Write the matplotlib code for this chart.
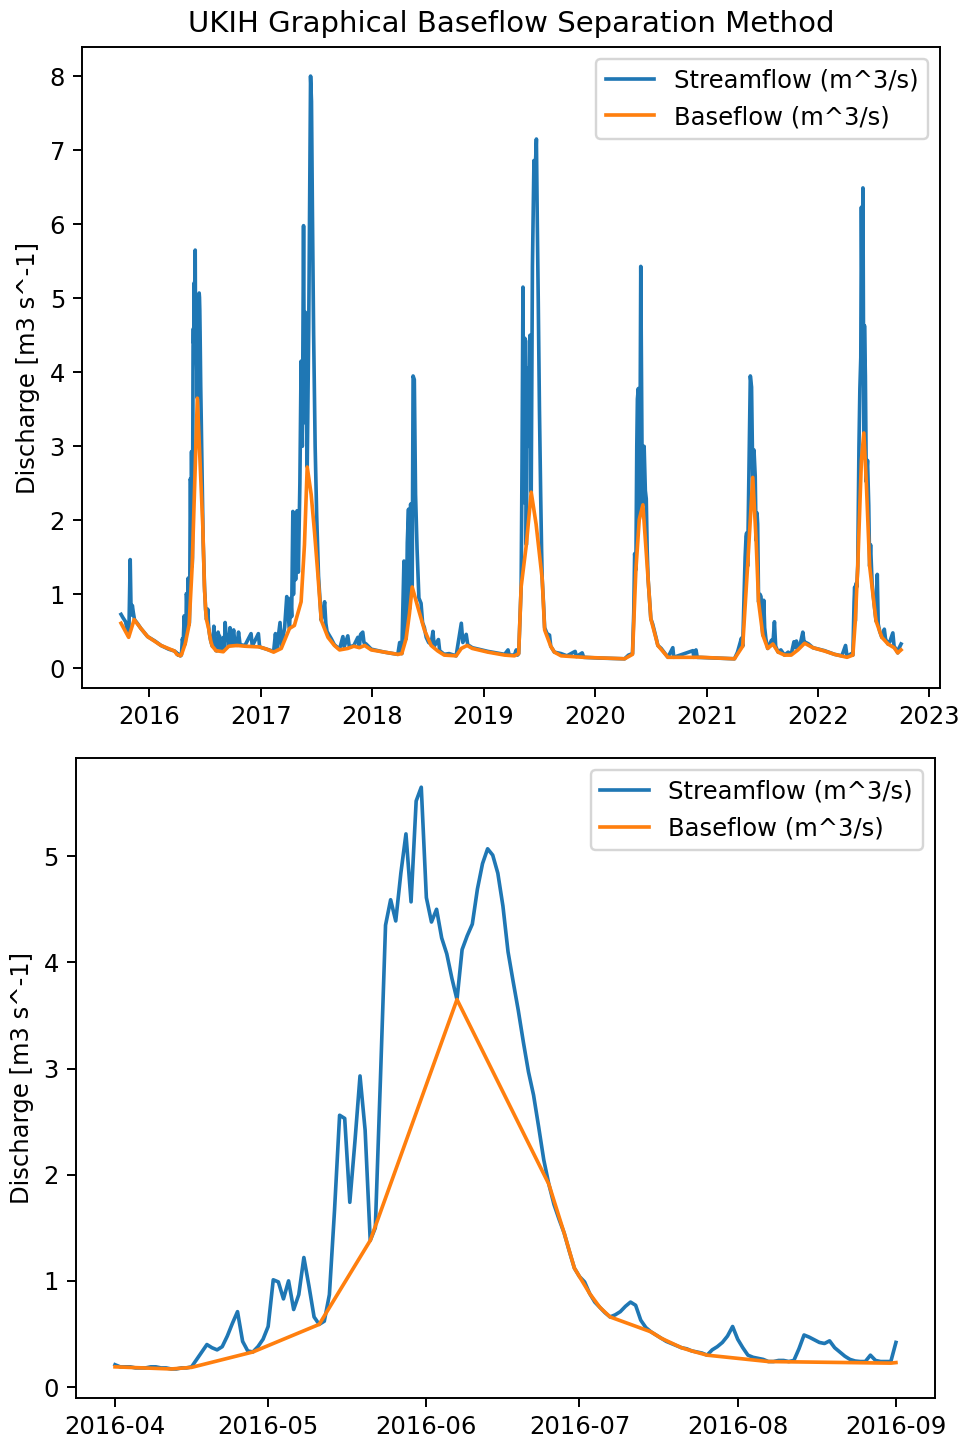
import matplotlib
matplotlib.use("Agg")
import matplotlib.pyplot as plt
import pandas as pd

# --- Streamflow, daily values for the zoom window (2016-04-01 .. 2016-09-01) ---
zoom_start = '2016-04-01'
zoom_end = '2016-09-01'
flow_daily_2016 = [
    # April
    0.21, 0.19, 0.19, 0.19, 0.18, 0.18, 0.18, 0.19, 0.19, 0.18,
    0.18, 0.17, 0.17, 0.18, 0.18, 0.19, 0.26, 0.33, 0.40, 0.37,
    0.35, 0.38, 0.48, 0.60, 0.71, 0.43, 0.34, 0.33, 0.38, 0.45,
    # May
    0.57, 1.01, 0.99, 0.83, 1.00, 0.73, 0.87, 1.22, 0.95, 0.66,
    0.59, 0.62, 0.87, 1.66, 2.56, 2.53, 1.74, 2.31, 2.93, 2.42,
    1.38, 1.50, 2.90, 4.35, 4.59, 4.39, 4.84, 5.21, 4.57, 5.52,
    5.65,
    # June
    4.61, 4.38, 4.50, 4.23, 4.08, 3.85, 3.65, 4.12, 4.25, 4.36,
    4.69, 4.93, 5.07, 5.01, 4.84, 4.53, 4.10, 3.82, 3.55, 3.25,
    2.97, 2.75, 2.45, 2.14, 1.91, 1.72, 1.58, 1.45, 1.28, 1.12,
    # July
    1.04, 0.99, 0.88, 0.80, 0.75, 0.70, 0.66, 0.68, 0.71, 0.76,
    0.80, 0.77, 0.63, 0.56, 0.52, 0.49, 0.46, 0.43, 0.41, 0.39,
    0.37, 0.36, 0.34, 0.33, 0.32, 0.30, 0.35, 0.38, 0.42, 0.48,
    0.57,
    # August
    0.45, 0.37, 0.30, 0.28, 0.27, 0.26, 0.24, 0.24, 0.25, 0.25,
    0.24, 0.25, 0.36, 0.49, 0.47, 0.445, 0.42, 0.41, 0.435, 0.37,
    0.33, 0.29, 0.26, 0.245, 0.24, 0.24, 0.30, 0.25, 0.24, 0.24,
    0.24,
    # September
    0.42,
]

# --- Streamflow outside the zoom window (read at the visible turning points) ---
flow_dates = [
    '2015-10-01', '2015-10-08', '2015-10-16', '2015-10-24', '2015-10-27', '2015-10-31',
    '2015-11-03', '2015-11-07', '2015-11-10', '2015-11-14', '2015-11-25', '2015-12-05',
    '2015-12-27', '2016-01-20', '2016-02-09', '2016-03-05', '2016-03-13', '2016-03-24',
    # after the zoom window
    '2016-09-04', '2016-09-06', '2016-09-10', '2016-09-14', '2016-09-18', '2016-09-22',
    '2016-09-26', '2016-10-04', '2016-10-08', '2016-10-15', '2016-10-20', '2016-10-25',
    '2016-11-10', '2016-11-30', '2016-12-04', '2016-12-24', '2016-12-28',
    # 2017
    '2017-01-20', '2017-02-12', '2017-02-18', '2017-02-22', '2017-03-05', '2017-03-09',
    '2017-03-20', '2017-03-27', '2017-03-31', '2017-04-05', '2017-04-09', '2017-04-12',
    '2017-04-16', '2017-04-18', '2017-04-22', '2017-04-25', '2017-04-30', '2017-05-04',
    '2017-05-09', '2017-05-13', '2017-05-17', '2017-05-21', '2017-05-24', '2017-05-27',
    '2017-06-02', '2017-06-07', '2017-06-11', '2017-06-13', '2017-06-16', '2017-06-19',
    '2017-06-23', '2017-06-28', '2017-07-03', '2017-07-09', '2017-07-14', '2017-07-18',
    '2017-07-24', '2017-07-29', '2017-08-02', '2017-08-06', '2017-08-10', '2017-08-20',
    '2017-08-30', '2017-09-10', '2017-09-16', '2017-09-27', '2017-10-01', '2017-10-13',
    '2017-10-18', '2017-11-02', '2017-11-15', '2017-11-20', '2017-11-24', '2017-12-01',
    '2017-12-05', '2017-12-12', '2017-12-29',
    # 2018
    '2018-02-10', '2018-03-26', '2018-04-01', '2018-04-08', '2018-04-15', '2018-04-18',
    '2018-04-22', '2018-04-26', '2018-04-30', '2018-05-03', '2018-05-07', '2018-05-12',
    '2018-05-15', '2018-05-19', '2018-05-23', '2018-05-28', '2018-06-03', '2018-06-10',
    '2018-06-15', '2018-06-21', '2018-06-27', '2018-07-05', '2018-07-13', '2018-07-19',
    '2018-07-23', '2018-08-06', '2018-08-10', '2018-08-25', '2018-09-10', '2018-10-03',
    '2018-10-20', '2018-10-25', '2018-11-05', '2018-11-10', '2018-11-25',
    # 2019
    '2019-01-15', '2019-03-11', '2019-03-22', '2019-03-26', '2019-04-12', '2019-04-18',
    '2019-04-22', '2019-04-26', '2019-05-04', '2019-05-07', '2019-05-10', '2019-05-13',
    '2019-05-16', '2019-05-19', '2019-05-21', '2019-05-25', '2019-05-29', '2019-06-02',
    '2019-06-06', '2019-06-10', '2019-06-15', '2019-06-18', '2019-06-23', '2019-06-26',
    '2019-06-29', '2019-07-03', '2019-07-07', '2019-07-10', '2019-07-12', '2019-07-16',
    '2019-07-20', '2019-07-28', '2019-08-05', '2019-08-09', '2019-08-21', '2019-09-12',
    '2019-10-01', '2019-10-28', '2019-11-01', '2019-11-20', '2019-11-25',
    # 2020
    '2020-01-15', '2020-04-07', '2020-04-20', '2020-05-03', '2020-05-07', '2020-05-10',
    '2020-05-14', '2020-05-17', '2020-05-19', '2020-05-22', '2020-05-25', '2020-05-28',
    '2020-05-30', '2020-06-03', '2020-06-06', '2020-06-10', '2020-06-14', '2020-06-17',
    '2020-06-20', '2020-06-23', '2020-06-28', '2020-07-02', '2020-07-08', '2020-07-14',
    '2020-07-20', '2020-07-25', '2020-08-05', '2020-08-27', '2020-09-12', '2020-09-15',
    '2020-11-17', '2020-11-20', '2020-11-27', '2020-12-01',
    # 2021
    '2021-02-01', '2021-04-02', '2021-04-12', '2021-04-25', '2021-04-29', '2021-05-03',
    '2021-05-07', '2021-05-10', '2021-05-12', '2021-05-15', '2021-05-19', '2021-05-24',
    '2021-05-28', '2021-06-01', '2021-06-05', '2021-06-09', '2021-06-12', '2021-06-15',
    '2021-06-17', '2021-06-20', '2021-06-25', '2021-06-28', '2021-07-01', '2021-07-04',
    '2021-07-07', '2021-07-10', '2021-07-14', '2021-07-20', '2021-07-25', '2021-08-01',
    '2021-08-06', '2021-08-11', '2021-08-15', '2021-08-23', '2021-09-01', '2021-09-13',
    '2021-09-25', '2021-10-05', '2021-10-14', '2021-10-18', '2021-10-22', '2021-10-27',
    '2021-11-03', '2021-11-12', '2021-11-16', '2021-11-22', '2021-12-01', '2021-12-15',
    # 2022
    '2022-01-22', '2022-02-24', '2022-03-20', '2022-04-01', '2022-04-06', '2022-04-20',
    '2022-04-25', '2022-04-29', '2022-05-01', '2022-05-03', '2022-05-06', '2022-05-08',
    '2022-05-11', '2022-05-15', '2022-05-18', '2022-05-21', '2022-05-23', '2022-05-25',
    '2022-05-28', '2022-05-31', '2022-06-02', '2022-06-05', '2022-06-08', '2022-06-12',
    '2022-06-16', '2022-06-19', '2022-06-22', '2022-06-27', '2022-07-03', '2022-07-10',
    '2022-07-14', '2022-07-17', '2022-07-22', '2022-07-29', '2022-08-03', '2022-08-06',
    '2022-08-10', '2022-08-18', '2022-08-24', '2022-09-03', '2022-09-07', '2022-09-12',
    '2022-09-19', '2022-09-24', '2022-09-30',
]
flow_vals = [
    0.73, 0.68, 0.63, 0.45, 0.55, 1.47,
    0.72, 0.85, 0.76, 0.66, 0.60, 0.54,
    0.43, 0.37, 0.31, 0.26, 0.25, 0.235,
    # after the zoom window
    0.30, 0.62, 0.40, 0.45, 0.30, 0.55,
    0.33, 0.52, 0.33, 0.31, 0.49, 0.32,
    0.31, 0.47, 0.30, 0.47, 0.29,
    # 2017
    0.26, 0.23, 0.47, 0.25, 0.62, 0.29,
    0.55, 0.97, 0.75, 0.54, 0.95, 0.70,
    2.12, 1.00, 2.05, 1.20, 2.13, 1.30,
    2.50, 4.15, 3.00, 5.98, 3.32, 4.81,
    2.72, 4.60, 6.80, 8.00, 7.66, 6.20,
    4.52, 3.00, 2.07, 1.25, 0.92, 0.65,
    0.75, 0.90, 0.61, 0.50, 0.47, 0.40,
    0.32, 0.28, 0.26, 0.43, 0.29, 0.44,
    0.29, 0.31, 0.42, 0.30, 0.46, 0.49,
    0.35, 0.33, 0.26,
    # 2018
    0.22, 0.19, 0.35, 0.20, 1.45, 0.45,
    0.40, 1.70, 2.15, 0.80, 2.22, 1.10,
    3.95, 3.90, 2.35, 1.61, 0.95, 0.88,
    0.62, 0.55, 0.42, 0.35, 0.33, 0.50,
    0.30, 0.39, 0.24, 0.19, 0.20, 0.17,
    0.61, 0.35, 0.46, 0.32, 0.28,
    # 2019
    0.23, 0.19, 0.25, 0.18, 0.18, 0.25,
    0.18, 0.20, 1.10, 2.80, 5.15, 2.24,
    4.46, 4.42, 1.67, 4.06, 3.00, 4.50,
    2.38, 5.43, 6.86, 6.60, 7.15, 6.00,
    5.00, 3.50, 2.35, 1.60, 1.21, 0.90,
    0.55, 0.47, 0.45, 0.30, 0.22, 0.20,
    0.17, 0.23, 0.16, 0.21, 0.15,
    # 2020
    0.14, 0.13, 0.18, 0.20, 0.75, 1.55,
    1.33, 3.00, 3.64, 3.78, 2.01, 3.50,
    5.43, 2.98, 2.21, 3.00, 2.40, 2.29,
    1.60, 1.21, 0.90, 0.67, 0.60, 0.50,
    0.40, 0.31, 0.27, 0.15, 0.28, 0.15,
    0.24, 0.15, 0.25, 0.15,
    # 2021
    0.14, 0.13, 0.22, 0.41, 0.30, 0.90,
    1.50, 1.78, 1.83, 1.38, 2.50, 3.95,
    3.80, 2.58, 2.95, 2.60, 1.73, 2.10,
    1.95, 0.90, 1.00, 0.97, 0.60, 0.45,
    0.92, 0.55, 0.40, 0.27, 0.30, 0.38,
    0.33, 0.63, 0.30, 0.22, 0.25, 0.18,
    0.22, 0.19, 0.36, 0.28, 0.37, 0.27,
    0.32, 0.49, 0.36, 0.35, 0.33, 0.28,
    # 2022
    0.24, 0.19, 0.17, 0.31, 0.16, 0.20,
    0.18, 0.90, 1.10, 0.64, 1.15, 1.10,
    1.38, 3.00, 3.78, 4.20, 6.23, 5.00,
    6.49, 3.18, 4.63, 3.95, 2.52, 2.81,
    2.20, 1.38, 1.67, 1.15, 0.90, 0.64,
    1.27, 0.60, 0.50, 0.42, 0.45, 0.53,
    0.40, 0.33, 0.36, 0.48, 0.30, 0.27,
    0.21, 0.28, 0.33,
]

# --- Baseflow turning points (UKIH: straight lines between them) ---
base_dates = [
    '2015-10-01', '2015-10-26', '2015-11-13', '2015-12-05', '2015-12-27', '2016-02-09',
    '2016-03-24', '2016-04-01', '2016-04-12', '2016-04-16', '2016-04-28', '2016-05-11',
    '2016-05-21', '2016-06-07', '2016-06-25', '2016-06-28', '2016-06-30', '2016-07-01',
    '2016-07-03', '2016-07-05', '2016-07-07', '2016-07-15', '2016-07-17', '2016-07-21',
    '2016-07-23', '2016-07-26', '2016-08-07', '2016-08-31', '2016-09-01', '2016-09-18',
    '2016-10-15', '2016-11-10', '2016-12-28',
    '2017-01-20', '2017-02-12', '2017-03-09', '2017-04-05', '2017-04-21', '2017-05-13',
    '2017-05-24', '2017-06-02', '2017-06-15', '2017-06-26', '2017-07-07', '2017-07-18',
    '2017-08-09', '2017-08-30', '2017-09-16', '2017-10-13', '2017-11-02', '2017-11-20',
    '2017-12-07', '2017-12-29',
    '2018-02-10', '2018-03-26', '2018-04-08', '2018-04-22', '2018-05-03', '2018-05-12',
    '2018-05-31', '2018-06-21', '2018-07-13', '2018-08-04', '2018-08-25', '2018-10-03',
    '2018-10-20', '2018-11-08', '2018-11-25',
    '2019-01-15', '2019-03-11', '2019-04-12', '2019-04-26', '2019-05-04', '2019-05-21',
    '2019-06-06', '2019-06-22', '2019-07-12', '2019-07-20', '2019-08-09', '2019-08-21',
    '2019-09-12', '2019-11-25',
    '2020-04-07', '2020-05-03', '2020-05-14', '2020-05-25', '2020-06-06', '2020-06-23',
    '2020-07-02', '2020-07-25', '2020-08-27', '2020-12-14',
    '2021-04-02', '2021-04-29', '2021-05-15', '2021-06-01', '2021-06-12', '2021-06-20',
    '2021-07-04', '2021-07-20', '2021-08-06', '2021-08-23', '2021-09-13', '2021-10-05',
    '2021-10-27', '2021-11-18', '2021-12-15',
    '2022-01-22', '2022-02-24', '2022-04-06', '2022-04-25', '2022-05-03', '2022-05-11',
    '2022-05-23', '2022-05-31', '2022-06-08', '2022-06-19', '2022-07-10', '2022-07-29',
    '2022-08-18', '2022-09-07', '2022-09-19', '2022-09-30',
]
base_vals = [
    0.61, 0.42, 0.66, 0.54, 0.43, 0.31,
    0.235, 0.19, 0.17, 0.185, 0.33, 0.59,
    1.38, 3.65, 1.91, 1.45, 1.12, 1.04,
    0.88, 0.75, 0.66, 0.52, 0.46, 0.37,
    0.34, 0.30, 0.24, 0.225, 0.23, 0.30,
    0.31, 0.30, 0.29,
    0.26, 0.22, 0.27, 0.54, 0.58, 0.90,
    1.67, 2.72, 2.35, 1.84, 1.27, 0.65,
    0.42, 0.31, 0.25, 0.27, 0.30, 0.28,
    0.31, 0.25,
    0.22, 0.19, 0.20, 0.40, 0.74, 1.10,
    0.82, 0.52, 0.31, 0.235, 0.18, 0.17,
    0.27, 0.31, 0.27,
    0.22, 0.18, 0.17, 0.20, 1.10, 1.67,
    2.38, 1.95, 1.21, 0.52, 0.30, 0.22,
    0.17, 0.15,
    0.13, 0.19, 1.33, 2.01, 2.21, 1.21,
    0.67, 0.31, 0.15, 0.15,
    0.13, 0.30, 1.38, 2.58, 1.73, 0.90,
    0.45, 0.27, 0.33, 0.22, 0.18, 0.18,
    0.25, 0.34, 0.28,
    0.235, 0.19, 0.15, 0.18, 0.64, 1.38,
    2.81, 3.18, 2.52, 1.38, 0.64, 0.42,
    0.33, 0.28, 0.21, 0.25,
]

# build the series
daily = pd.Series(flow_daily_2016,
                  index=pd.date_range(zoom_start, periods=len(flow_daily_2016), freq='D'))
sparse = pd.Series(flow_vals, index=pd.to_datetime(flow_dates))
flow = pd.concat([sparse, daily]).sort_index()
base = pd.Series(base_vals, index=pd.to_datetime(base_dates))

# same pixel size as the reference, rendered a bit "bigger" (text, lines)
dpi = 175
fig = plt.figure(figsize=(963 / dpi, 1441 / dpi), dpi=dpi)

# full record
ax1 = fig.add_axes([0.0852, 0.5226, 0.8910, 0.4448])
ax1.plot(flow.index, flow.values, label='Streamflow (m^3/s)')
ax1.plot(base.index, base.values, label='Baseflow (m^3/s)')
ax1.set_ylabel('Discharge [m3 s^-1]')
ax1.set_title('UKIH Graphical Baseflow Separation Method')
ax1.legend(loc='upper right')

# zoom on the 2016 snowmelt peak
flow_z = flow[zoom_start:zoom_end]
base_z = base[zoom_start:zoom_end]
ax2 = fig.add_axes([0.0789, 0.0298, 0.8920, 0.4441])
ax2.plot(flow_z.index, flow_z.values, label='Streamflow (m^3/s)')
ax2.plot(base_z.index, base_z.values, label='Baseflow (m^3/s)')
ax2.set_ylabel('Discharge [m3 s^-1]')
ax2.legend(loc='upper right')

fig.savefig('out.png', dpi=dpi)
